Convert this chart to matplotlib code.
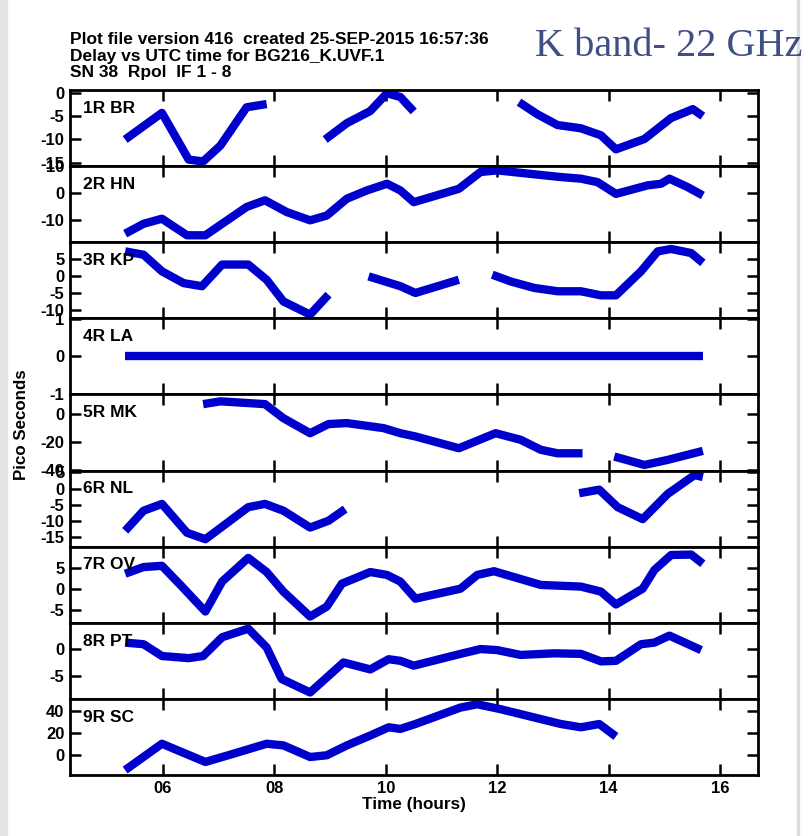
import numpy as np
import matplotlib
matplotlib.use("Agg")
import matplotlib.pyplot as plt
from matplotlib.patches import Rectangle

plt.rcParams['font.family'] = ['Liberation Sans', 'DejaVu Sans']
plt.rcParams['font.weight'] = 'bold'
plt.rcParams['axes.unicode_minus'] = False

nan = np.nan

# delay (ps) vs UTC (hours), segments split with nan
br_t = [5.32, 5.98, 6.46, 6.72, 7.03, 7.50, 7.86, nan,
        8.91, 9.30, 9.72, 10.02, 10.26, 10.50, nan,
        12.39, 12.72, 13.08, 13.50, 13.86, 14.13, 14.64, 15.12, 15.51, 15.69]
br_v = [-10.0, -4.3, -14.3, -14.7, -11.3, -3.1, -2.4, nan,
        -10.0, -6.5, -3.9, -0.1, -0.9, -4.0, nan,
        -2.0, -4.6, -6.9, -7.6, -9.1, -12.1, -9.9, -5.4, -3.5, -5.0]

hn_t = [5.32, 5.65, 5.98, 6.43, 6.76, 7.50, 7.83, 8.22, 8.64, 8.94, 9.30, 9.66,
        10.02, 10.26, 10.50, 11.31, 11.70, 12.00, 13.14, 13.50, 13.80, 14.13,
        14.70, 14.94, 15.09, 15.42, 15.69]
hn_v = [-15.2, -11.5, -9.6, -15.8, -15.8, -5.2, -2.7, -7.1, -10.2, -8.4, -2.1, 1.0,
        3.5, 1.0, -3.4, 1.6, 7.9, 8.5, 6.0, 5.4, 4.1, -0.3,
        2.9, 3.5, 5.4, 2.2, -0.9]

kp_t = [5.32, 5.65, 5.98, 6.37, 6.70, 7.06, 7.53, 7.86, 8.16, 8.64, 8.97, nan,
        9.69, 10.26, 10.53, 11.31, nan,
        11.91, 12.24, 12.66, 13.08, 13.50, 13.86, 14.13, 14.58, 14.88, 15.12, 15.48, 15.69]
kp_v = [7.2, 6.2, 1.3, -2.2, -3.1, 3.3, 3.3, -1.2, -7.6, -11.5, -5.6, nan,
        -0.2, -3.1, -5.1, -1.2, nan,
        0.3, -1.7, -3.6, -4.6, -4.6, -5.8, -5.8, 1.3, 7.2, 7.9, 6.7, 3.8]

la_t = [5.32, 15.69]
la_v = [0.0, 0.0]

mk_t = [6.72, 7.03, 7.83, 8.16, 8.64, 8.97, 9.30, 9.96, 10.26, 10.53, 11.31,
        11.97, 12.42, 12.78, 13.08, 13.53, nan,
        14.10, 14.64, 15.06, 15.69]
mk_v = [7.1, 9.1, 7.1, -2.9, -13.6, -7.1, -6.4, -10.0, -13.6, -15.9, -24.3,
        -13.6, -18.3, -25.4, -27.9, -27.9, nan,
        -30.2, -36.2, -32.6, -26.2]

nl_t = [5.32, 5.65, 5.98, 6.43, 6.76, 7.53, 7.83, 8.16, 8.64, 8.97, 9.27, nan,
        13.47, 13.83, 14.16, 14.61, 15.06, 15.54, 15.69]
nl_v = [-13.0, -6.8, -4.7, -13.6, -15.6, -5.7, -4.7, -6.8, -12.0, -9.9, -6.3, nan,
        -1.4, -0.3, -5.7, -9.4, -1.6, 4.2, 3.6]

ov_t = [5.32, 5.65, 5.98, 6.34, 6.76, 7.06, 7.53, 7.86, 8.16, 8.64, 8.94, 9.21,
        9.72, 10.02, 10.26, 10.53, 11.34, 11.64, 11.94, 12.78, 13.50, 13.86,
        14.13, 14.61, 14.82, 15.12, 15.48, 15.69]
ov_v = [3.7, 5.3, 5.6, 0.6, -5.4, 1.8, 7.5, 4.1, -0.6, -6.6, -4.2, 1.3,
        4.1, 3.4, 1.8, -2.3, 0.1, 3.4, 4.3, 1.0, 0.6, -0.6,
        -3.7, 0.1, 4.6, 8.2, 8.3, 6.1]

pt_t = [5.32, 5.65, 5.98, 6.46, 6.72, 7.06, 7.53, 7.86, 8.13, 8.64, 9.24, 9.72,
        10.05, 10.26, 10.50, 11.34, 11.70, 12.00, 12.42, 13.02, 13.50, 13.86,
        14.13, 14.58, 14.82, 15.09, 15.66]
pt_v = [1.2, 0.9, -1.3, -1.7, -1.3, 2.2, 3.8, 0.3, -5.6, -8.1, -2.5, -3.8,
        -1.9, -2.2, -3.1, -0.9, 0.0, -0.2, -1.1, -0.8, -0.9, -2.3,
        -2.2, 0.9, 1.2, 2.5, -0.2]

sc_t = [5.32, 5.98, 6.76, 7.27, 7.86, 8.16, 8.64, 8.94, 9.30, 9.72, 10.05,
        10.26, 10.53, 11.34, 11.64, 12.06, 12.78, 13.14, 13.50, 13.83, 14.13]
sc_v = [-14.1, 9.9, -6.7, 0.9, 9.9, 8.4, -2.2, -0.6, 8.4, 17.4, 24.9,
        23.4, 27.9, 42.9, 45.9, 41.4, 32.4, 27.9, 24.9, 27.9, 16.5]

names = ['1R BR', '2R HN', '3R KP', '4R LA', '5R MK', '6R NL', '7R OV', '8R PT', '9R SC']
times = [br_t, hn_t, kp_t, la_t, mk_t, nl_t, ov_t, pt_t, sc_t]
delays = [br_v, hn_v, kp_v, la_v, mk_v, nl_v, ov_v, pt_v, sc_v]
ylims = [(-15.7, 0.6), (-18.4, 10.1), (-12.6, 9.9), (-1.01, 1.01), (-40.2, 14),
         (-17.9, 5.6), (-8.1, 10.2), (-9.3, 4.9), (-18.6, 50.8)]
yticks = [[0, -5, -10, -15], [10, 0, -10], [5, 0, -5, -10], [1, 0, -1], [0, -20, -40],
          [5, 0, -5, -10, -15], [5, 0, -5], [0, -5], [40, 20, 0]]
xticks = [6, 8, 10, 12, 14, 16]
xticklabels = ['06', '08', '10', '12', '14', '16']

fig = plt.figure(figsize=(8.08, 8.36), dpi=100)
gs = fig.add_gridspec(9, 1, left=70/808, right=758/808, top=1-90/836,
                      bottom=1-775/836, hspace=0)

for i in range(9):
    ax = fig.add_subplot(gs[i])
    ax.plot(times[i], delays[i], color='#0000cc', lw=6, solid_capstyle='butt')
    ax.set_xlim(4.33, 16.68)
    ax.set_ylim(*ylims[i])
    ax.set_yticks(yticks[i])
    ax.set_xticks(xticks)
    ax.tick_params(direction='in', length=8, width=1.8, top=True, right=True,
                   labelright=False, labelsize=12, pad=4)
    for s in ax.spines.values():
        s.set_linewidth(2)
    ax.text(0.019, 0.76, names[i], transform=ax.transAxes, fontsize=12.5,
            fontweight='bold', va='center', ha='left')
    if i < 8:
        ax.set_xticklabels([])
    else:
        ax.set_xticklabels(xticklabels)
        ax.set_xlabel('Time (hours)', fontsize=12.3, fontweight='bold', labelpad=1)

fig.text(22/808, 1-425/836, 'Pico Seconds', rotation=90, fontsize=12.2,
         fontweight='bold', ha='center', va='center')

fig.text(70/808, 1-40/836, 'Plot file version 416  created 25-SEP-2015 16:57:36',
         fontsize=12.5, fontweight='bold', va='center')
fig.text(70/808, 1-57/836, 'Delay vs UTC time for BG216_K.UVF.1',
         fontsize=12.5, fontweight='bold', va='center')
fig.text(70/808, 1-73/836, 'SN 38  Rpol  IF 1 - 8',
         fontsize=12.5, fontweight='bold', va='center')
fig.text(535/808, 1-47/836, 'K band- 22 GHz', fontsize=29, color='#3f4f86',
         family=['Liberation Serif', 'DejaVu Serif'], fontweight='normal', va='center')

# page edge shading of the screenshot
fig.patches.append(Rectangle((0, 0), 7/808, 1, transform=fig.transFigure,
                             color='#e4e4e4', zorder=0))
fig.patches.append(Rectangle((797/808, 0), 2/808, 1, transform=fig.transFigure,
                             color='#dddddd', zorder=0))

fig.savefig('out.png', dpi=100)
